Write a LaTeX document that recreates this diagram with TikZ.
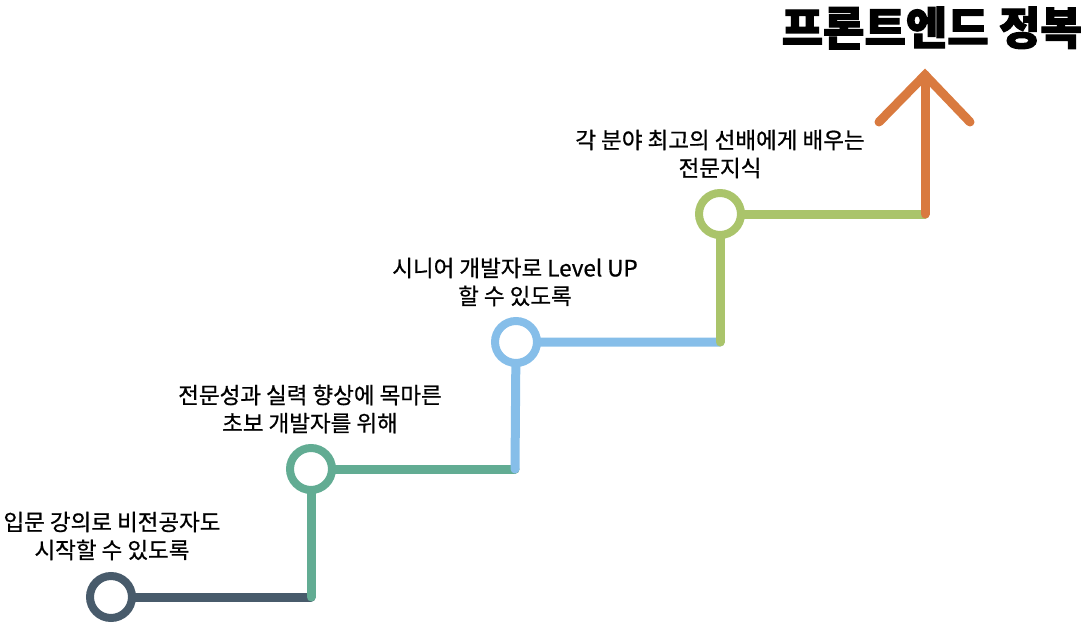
\documentclass[tikz,border=0pt]{standalone}
\usepackage{fontspec}
\setmainfont{Noto Sans CJK KR}[UprightFeatures={FakeBold=0.7}]
\newfontfamily\titlefont{Noto Sans CJK KR}[BoldFeatures={FakeBold=2.5}]
\definecolor{cdark}{HTML}{485B6B}
\definecolor{cteal}{HTML}{62AC93}
\definecolor{cblue}{HTML}{86BEE9}
\definecolor{clime}{HTML}{AAC46B}
\definecolor{corange}{HTML}{D97A3F}
\tikzset{
  ring/.style={circle, draw=#1, line width=8pt, fill=white, minimum size=42pt, inner sep=0pt},
  track/.style={draw=#1, line width=9pt, line cap=round},
  lbl/.style={align=center, font=\fontsize{22.5pt}{28pt}\selectfont, inner sep=0pt}
}
\begin{document}
\begin{tikzpicture}[x=1pt,y=-1pt]
\useasboundingbox (0,0) rectangle (1085,623);
\coordinate (k1) at (311,597);
\coordinate (k2) at (515,469);
\coordinate (k3) at (720,342);
\coordinate (k4) at (925,214);
\coordinate (tip) at (925,75);
\coordinate (armL) at (879,122);
\coordinate (armR) at (970,122);
\coordinate (p1) at (111,597);
\coordinate (p2) at (311,469);
\coordinate (p3) at (516,342);
\coordinate (p4) at (720,214);
\draw[track=cdark] (p1) -- (k1);
\draw[track=cteal] (k1) -- (p2) -- (k2);
\draw[track=cblue] (k2) -- (p3) -- (k3);
\draw[track=clime] (k3) -- (p4) -- (k4);
\draw[track=corange] (k4) -- (tip);
\draw[track=corange] (armL) -- (tip) -- (armR);
\node[ring=cdark] (c1) at (p1) {};
\node[ring=cteal] (c2) at (p2) {};
\node[ring=cblue] (c3) at (p3) {};
\node[ring=clime] (c4) at (p4) {};
\node[lbl] (t1) at (112,536) {입문 강의로 비전공자도\\시작할 수 있도록};
\node[lbl] (t2) at (310,409) {전문성과 실력 향상에 목마른\\초보 개발자를 위해};
\node[lbl] (t3) at (515,282) {시니어 개발자로 Level UP\\할 수 있도록};
\node[lbl] (t4) at (720,154) {각 분야 최고의 선배에게 배우는\\전문지식};
\node[anchor=east, inner sep=0pt, font=\titlefont\bfseries\fontsize{45pt}{50pt}\selectfont] (title) at (1082,28) {프론트엔드 정복};
\end{tikzpicture}
\end{document}
